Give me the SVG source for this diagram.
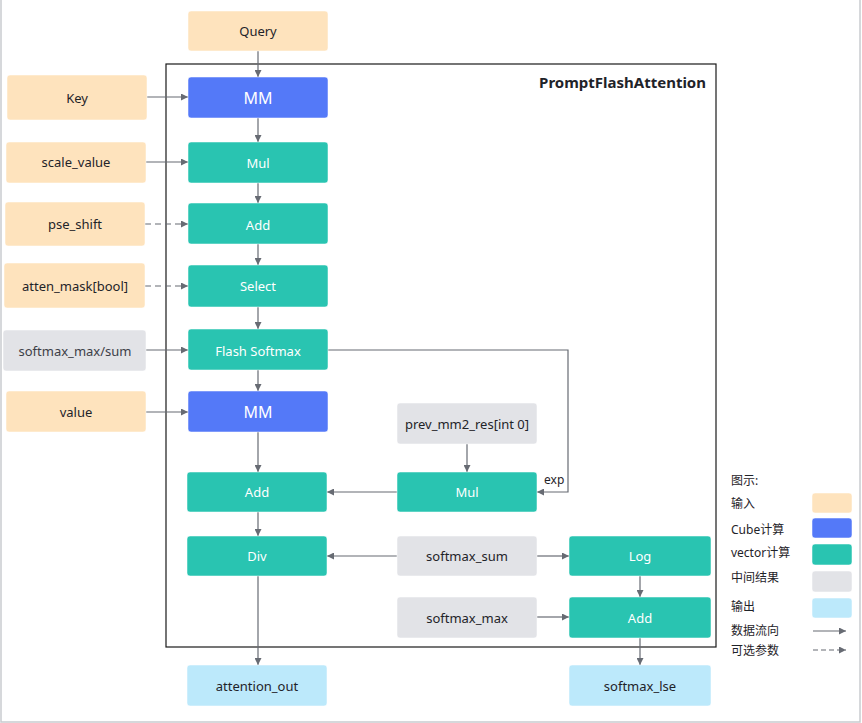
<svg xmlns="http://www.w3.org/2000/svg" width="862" height="723" viewBox="0 0 862 723">
  <defs>
    <marker id="arr" viewBox="0 0 10 10" refX="10" refY="5" markerWidth="7" markerHeight="7" orient="auto" markerUnits="userSpaceOnUse">
      <path d="M0,0 L10,5 L0,10 z" fill="#676b73"/>
    </marker>
    <style>
      text { font-family: "Noto Sans", "Open Sans", "Noto Sans CJK SC", sans-serif; font-size: 13px; fill: #1f2329; }
      .lbl { text-anchor: middle; dominant-baseline: central; }
      .wt { fill: #ffffff; }
      .big { font-size: 16px; }
      .in { fill: #fee3bd; }
      .cube { fill: #5479f8; }
      .vec { fill: #29c4b1; }
      .mid { fill: #e2e3e7; }
      .out { fill: #bce9fb; }
      .box { stroke: #ffffff; stroke-opacity: 0.5; stroke-width: 1; }
      .ln { stroke: #676b73; stroke-width: 1.2; fill: none; marker-end: url(#arr); }
      .dash { stroke-dasharray: 6 4; }
      .plain { stroke: #676b73; stroke-width: 1.2; fill: none; }
    </style>
  </defs>

  <rect x="0" y="0" width="862" height="723" fill="#ffffff"/>
  <!-- page edge -->
  <path d="M1,0 V722 H860 V0" fill="none" stroke="#c9cbd0" stroke-width="1.5"/>

  <!-- operator frame -->
  <g id="frame">
    <rect x="166" y="64" width="550" height="583" fill="none" stroke="#1a1a1a" stroke-width="1.2"/>
    <text x="706" y="82" text-anchor="end" dominant-baseline="central" style="font-weight:bold;font-size:15px">PromptFlashAttention</text>
  </g>

  <!-- connectors -->
  <g id="connectors">
    <line class="ln" x1="258" y1="51" x2="258" y2="77"/>
    <line class="ln" x1="258" y1="118" x2="258" y2="142"/>
    <line class="ln" x1="258" y1="183" x2="258" y2="203"/>
    <line class="ln" x1="258" y1="244" x2="258" y2="265"/>
    <line class="ln" x1="258" y1="307" x2="258" y2="329"/>
    <line class="ln" x1="258" y1="370" x2="258" y2="391"/>
    <line class="ln" x1="258" y1="432" x2="258" y2="472"/>
    <line class="ln" x1="258" y1="512" x2="258" y2="536"/>
    <line class="ln" x1="258" y1="576" x2="258" y2="665"/>

    <line class="ln" x1="147" y1="97" x2="188" y2="97"/>
    <line class="ln" x1="146" y1="162" x2="188" y2="162"/>
    <line class="ln dash" x1="145" y1="224" x2="188" y2="224"/>
    <line class="ln dash" x1="145" y1="286" x2="188" y2="286"/>
    <line class="ln" x1="146" y1="350" x2="188" y2="350"/>
    <line class="ln" x1="146" y1="412" x2="188" y2="412"/>

    <polyline class="ln" points="328,350 568,350 568,492 537,492"/>
    <text x="544" y="479" dominant-baseline="central" style="font-size:12px">exp</text>

    <line class="ln" x1="467" y1="444" x2="467" y2="472"/>
    <line class="ln" x1="397" y1="492" x2="327" y2="492"/>
    <line class="ln" x1="397" y1="556" x2="327" y2="556"/>
    <line class="ln" x1="537" y1="556" x2="569" y2="556"/>
    <line class="ln" x1="537" y1="617" x2="569" y2="617"/>
    <line class="ln" x1="640" y1="576" x2="640" y2="597"/>
    <line class="ln" x1="640" y1="638" x2="640" y2="665"/>
  </g>

  <!-- inputs -->
  <g id="query"><rect class="box in" x="188" y="11" width="140" height="40" rx="3"/><text class="lbl" x="258" y="31">Query</text></g>
  <g id="key"><rect class="box in" x="7" y="75" width="140" height="45" rx="3"/><text class="lbl" x="77" y="98">Key</text></g>
  <g id="scale_value"><rect class="box in" x="6" y="142" width="140" height="41" rx="3"/><text class="lbl" x="76" y="162">scale_value</text></g>
  <g id="pse_shift"><rect class="box in" x="5" y="202" width="140" height="44" rx="3"/><text class="lbl" x="75" y="224">pse_shift</text></g>
  <g id="atten_mask"><rect class="box in" x="4" y="263" width="141" height="45" rx="3"/><text class="lbl" x="75" y="286">atten_mask[bool]</text></g>
  <g id="softmax_max_sum_in"><rect class="box mid" x="3" y="330" width="143" height="41" rx="3"/><text class="lbl" x="75" y="351" style="fill:#3d4047">softmax_max/sum</text></g>
  <g id="value"><rect class="box in" x="6" y="391" width="140" height="41" rx="3"/><text class="lbl" x="76" y="412">value</text></g>

  <!-- main chain -->
  <g id="mm1"><rect class="box cube" x="188" y="77" width="140" height="41" rx="3"/><text class="lbl wt big" x="258" y="98">MM</text></g>
  <g id="mul1"><rect class="box vec" x="188" y="142" width="140" height="41" rx="3"/><text class="lbl wt" x="258" y="163">Mul</text></g>
  <g id="add1"><rect class="box vec" x="188" y="203" width="140" height="41" rx="3"/><text class="lbl wt" x="258" y="225">Add</text></g>
  <g id="select"><rect class="box vec" x="188" y="265" width="140" height="42" rx="3"/><text class="lbl wt" x="258" y="286">Select</text></g>
  <g id="flash_softmax"><rect class="box vec" x="188" y="329" width="140" height="41" rx="3"/><text class="lbl wt" x="258" y="351">Flash Softmax</text></g>
  <g id="mm2"><rect class="box cube" x="188" y="391" width="140" height="41" rx="3"/><text class="lbl wt big" x="258" y="412">MM</text></g>
  <g id="add2"><rect class="box vec" x="187" y="472" width="140" height="40" rx="3"/><text class="lbl wt" x="257" y="492">Add</text></g>
  <g id="div"><rect class="box vec" x="187" y="536" width="140" height="40" rx="3"/><text class="lbl wt" x="257" y="556">Div</text></g>

  <!-- right column -->
  <g id="prev_mm2_res"><rect class="box mid" x="397" y="403" width="140" height="41" rx="3"/><text class="lbl" x="467" y="424">prev_mm2_res[int 0]</text></g>
  <g id="mul2"><rect class="box vec" x="397" y="472" width="140" height="40" rx="3"/><text class="lbl wt" x="467" y="492">Mul</text></g>
  <g id="softmax_sum"><rect class="box mid" x="397" y="536" width="140" height="40" rx="3"/><text class="lbl" x="467" y="556">softmax_sum</text></g>
  <g id="softmax_max"><rect class="box mid" x="397" y="597" width="140" height="41" rx="3"/><text class="lbl" x="467" y="618">softmax_max</text></g>
  <g id="log"><rect class="box vec" x="569" y="536" width="142" height="40" rx="3"/><text class="lbl wt" x="640" y="556">Log</text></g>
  <g id="add3"><rect class="box vec" x="569" y="597" width="142" height="41" rx="3"/><text class="lbl wt" x="640" y="618">Add</text></g>

  <!-- outputs -->
  <g id="attention_out"><rect class="box out" x="187" y="665" width="140" height="41" rx="3"/><text class="lbl" x="257" y="686">attention_out</text></g>
  <g id="softmax_lse"><rect class="box out" x="569" y="665" width="142" height="41" rx="3"/><text class="lbl" x="640" y="686">softmax_lse</text></g>

  <!-- legend -->
  <g id="legend">
    <text x="731" y="480" dominant-baseline="central" style="font-size:12px">图示:</text>
    <text x="731" y="503" dominant-baseline="central" style="font-size:12px">输入</text>
    <rect class="box in" x="812" y="493" width="40" height="20" rx="3"/>
    <text x="731" y="529" dominant-baseline="central" style="font-size:12px">Cube计算</text>
    <rect class="box cube" x="812" y="518" width="40" height="20" rx="3"/>
    <text x="731" y="552" dominant-baseline="central" style="font-size:12px">vector计算</text>
    <rect class="box vec" x="812" y="544" width="40" height="21" rx="3"/>
    <text x="731" y="577" dominant-baseline="central" style="font-size:12px">中间结果</text>
    <rect class="box mid" x="812" y="571" width="40" height="21" rx="3"/>
    <text x="731" y="606" dominant-baseline="central" style="font-size:12px">输出</text>
    <rect class="box out" x="812" y="598" width="40" height="20" rx="3"/>
    <text x="731" y="630" dominant-baseline="central" style="font-size:12px">数据流向</text>
    <line class="ln" x1="813" y1="631" x2="846" y2="631"/>
    <text x="731" y="650" dominant-baseline="central" style="font-size:12px">可选参数</text>
    <line class="ln dash" x1="813" y1="650" x2="846" y2="650" style="stroke-dasharray:5 3"/>
  </g>
</svg>
